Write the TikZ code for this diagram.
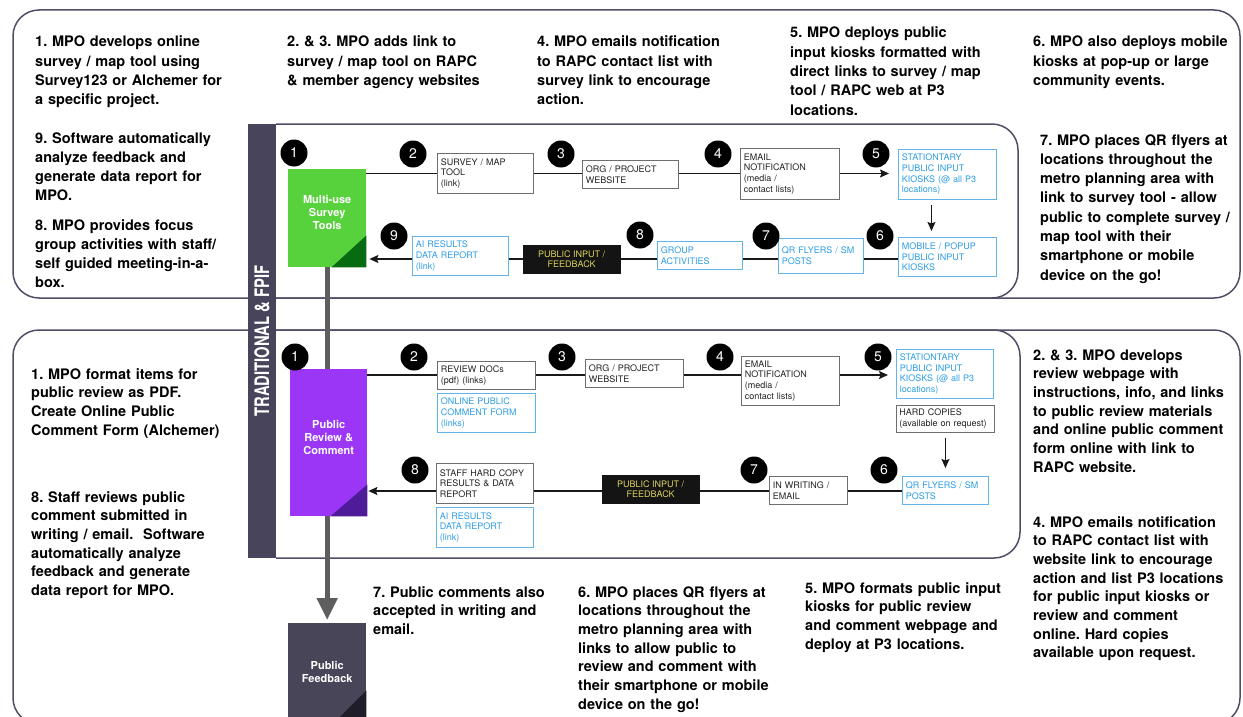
\documentclass[tikz,border=0pt]{standalone}
\usepackage{fontspec}
\setmainfont{TeX Gyre Heros}
\usepackage{graphicx}
\usetikzlibrary{arrows.meta}
\definecolor{frame}{HTML}{4F4E66}
\definecolor{barcol}{HTML}{47445C}
\definecolor{green1}{HTML}{58D23C}
\definecolor{green2}{HTML}{076B12}
\definecolor{purp1}{HTML}{9B36F7}
\definecolor{purp2}{HTML}{4F1C99}
\definecolor{fb1}{HTML}{484559}
\definecolor{fb2}{HTML}{1F1D29}
\definecolor{blueline}{HTML}{62B5EA}
\definecolor{bluetext}{HTML}{2D9DE6}
\definecolor{grayline}{HTML}{6E6E6E}
\definecolor{boxtext}{HTML}{222222}
\definecolor{pifbg}{HTML}{141414}
\definecolor{piftext}{HTML}{DDD35C}
\definecolor{thickgray}{HTML}{5E5E5E}
\pgfdeclarelayer{back}
\pgfdeclarelayer{mid}
\pgfsetlayers{back,mid,main}
\begin{document}
\frenchspacing
\begin{tikzpicture}[x=1pt,y=-1pt,
  frm/.style={draw=frame,line width=1.5pt,rounded corners=26pt},
  bx/.style n args={3}{draw, line width=0.9pt, anchor=north west, inner xsep=3.5pt, inner ysep=0pt,
     minimum width=#1, minimum height=#2, text width=#3, align=left,
     font=\frenchspacing\fontsize{9}{10.7}\selectfont},
  gb/.style={draw=grayline, text=boxtext},
  bb/.style={draw=blueline, text=bluetext},
  pif/.style={fill=pifbg, draw=pifbg, text=piftext, anchor=north west, inner sep=0pt,
     minimum width=97pt, minimum height=28pt, align=center, font=\fontsize{9}{10.7}\selectfont},
  num/.style={circle, fill=black, text=white, minimum size=27pt, inner sep=0pt,
     font=\fontsize{14}{14}\selectfont},
  conn/.style={draw=black!90, line width=1.3pt},
  arr/.style={conn, -{Stealth[length=9pt,width=8pt,inset=1.5pt]}},
  ann/.style={anchor=base west, inner sep=0pt, text width=240pt, align=left,
     font=\frenchspacing\bfseries\fontsize{14.5}{19.3}\selectfont},
  annl/.style={anchor=base west, inner sep=0pt, text width=240pt, align=left,
     font=\frenchspacing\bfseries\fontsize{14.5}{18.7}\selectfont},
  bigbox/.style={anchor=north west, inner sep=0pt},
  bigtxt/.style={text=white, align=center, inner sep=0pt, font=\bfseries\fontsize{11}{13}\selectfont},
]
\useasboundingbox (0,0) rectangle (1243,717);
\begin{pgfonlayer}{back}
\fill[white] (0,0) rectangle (1243,717);
\draw[frm] (13,10) rectangle (1240,298);
\draw[frm] (13,330) rectangle (1240,724);
\draw[frm] (276,124) -- (1018,124) -- (1018,298) -- (276,298);
\draw[frm] (276,330) -- (1020,330) -- (1020,558) -- (276,558);
\end{pgfonlayer}

% side bar
\node[fill=barcol, rotate=90, minimum width=434pt, minimum height=28pt, inner sep=0pt, text=white]
  (bar) at (262,341) {\scalebox{0.74}[1]{\bfseries\fontsize{20}{20}\selectfont TRADITIONAL \& FPIF}};

% big boxes
\node[bigbox, fill=green1, minimum width=78pt, minimum height=98pt] (green) at (288,169) {};
\fill[green2] ([yshift=32pt]green.south east) -- (green.south east) -- ([xshift=-35pt]green.south east) -- cycle;
\node[bigtxt] (greentxt) at ([yshift=6pt]green.center) {Multi-use\\Survey\\Tools};

\node[bigbox, fill=purp1, minimum width=77pt, minimum height=147pt] (purple) at (290,369) {};
\fill[purp2] ([yshift=32pt]purple.south east) -- (purple.south east) -- ([xshift=-37pt]purple.south east) -- cycle;
\node[bigtxt] (purpletxt) at ([yshift=5.5pt]purple.center) {Public\\Review \&\\Comment};

\node[bigbox, fill=fb1, minimum width=78pt, minimum height=110pt] (feedback) at (288,623) {};
\fill[fb2] ([yshift=43pt]feedback.south east) -- (feedback.south east) -- ([xshift=-43pt]feedback.south east) -- cycle;
\node[bigtxt] (feedbacktxt) at ([yshift=6pt]feedback.center) {Public\\Feedback};

\begin{pgfonlayer}{mid}
\draw[line width=5pt, draw=thickgray, -{Triangle[length=22pt,width=20pt]}, shorten >=3pt]
  (green.south) -- (feedback.north);
\end{pgfonlayer}

% ---------- top panel boxes
\node[bx={96pt}{40pt}{89pt}, gb] (survey) at (437,153) {SURVEY / MAP\\TOOL\\(link)};
\node[bx={96pt}{28pt}{89pt}, gb] (orgA) at (582,160) {ORG / PROJECT\\WEBSITE};
\node[bx={99pt}{51pt}{92pt}, gb] (emailA) at (740,148) {EMAIL\\NOTIFICATION\\(media /\\contact lists)};
\node[bx={98pt}{50pt}{91pt}, bb] (statA) at (898,149) {STATIONTARY\\PUBLIC INPUT\\KIOSKS (@ all P3\\locations)};
\node[bx={98pt}{39pt}{91pt}, bb] (mobA) at (898,237) {MOBILE / POPUP\\PUBLIC INPUT\\KIOSKS};
\node[bx={85pt}{35pt}{78pt}, bb] (qrA) at (778,238) {QR FLYERS / SM\\POSTS};
\node[bx={85pt}{28pt}{78pt}, bb] (grpA) at (657,241) {GROUP\\ACTIVITIES};
\node[pif] (pifA) at (523,245) {PUBLIC INPUT /\\FEEDBACK};
\node[bx={96pt}{39pt}{89pt}, bb] (aiA) at (412,236) {AI RESULTS\\DATA REPORT\\(link)};

\coordinate (t1) at (0,173.5);
\coordinate (t2) at (0,259);
\draw[conn] (green.east |- t1) -- (survey.west |- t1);
\draw[conn] (survey.east |- t1) -- (orgA.west |- t1);
\draw[conn] (orgA.east |- t1) -- (emailA.west |- t1);
\draw[arr, shorten >=9pt] (emailA.east |- t1) -- (statA.west |- t1);
\draw[arr, shorten <=5pt, shorten >=6pt] ([xshift=-16pt]statA.south) -- ([xshift=-16pt]mobA.north);
\draw[conn] (mobA.west |- t2) -- (qrA.east |- t2);
\draw[conn] (qrA.west |- t2) -- (grpA.east |- t2);
\draw[conn] (grpA.west |- t2) -- (pifA.east |- t2);
\draw[conn] (pifA.west |- t2) -- (aiA.east |- t2);
\draw[arr, shorten >=3pt] (aiA.west |- t2) -- (green.east |- t2);

\node[num] (a1) at (294,153) {1};
\node[num] (a2) at (413,154) {2};
\node[num] (a3) at (561,154) {3};
\node[num] (a4) at (718,154) {4};
\node[num] (a5) at (876,154) {5};
\node[num] (a6) at (880,236) {6};
\node[num] (a7) at (766,236) {7};
\node[num] (a8) at (640,235) {8};
\node[num] (a9) at (394,236) {9};

% ---------- lower panel boxes
\node[bx={98pt}{28pt}{91pt}, gb] (rdocs) at (437,361) {REVIEW DOCs\\(pdf) (links)};
\node[bx={98pt}{39pt}{91pt}, bb] (ocf) at (437,393) {ONLINE PUBLIC\\COMMENT FORM\\(links)};
\node[bx={98pt}{28pt}{91pt}, gb] (orgB) at (585,359) {ORG / PROJECT\\WEBSITE};
\node[bx={98pt}{49pt}{91pt}, gb] (emailB) at (741,356) {EMAIL\\NOTIFICATION\\(media /\\contact lists)};
\node[bx={97pt}{49pt}{90pt}, bb] (statB) at (896,349) {STATIONTARY\\PUBLIC INPUT\\KIOSKS (@ all P3\\locations)};
\node[bx={98pt}{27pt}{92pt}, gb, inner xsep=3pt] (hard) at (896,405) {HARD COPIES\\(available on request)};
\node[bx={86pt}{28pt}{79pt}, bb] (qrB) at (902,476) {QR FLYERS / SM\\POSTS};
\node[bx={78pt}{28pt}{71pt}, gb] (writ) at (769,476) {IN WRITING /\\EMAIL};
\node[pif] (pifB) at (602,475) {PUBLIC INPUT /\\FEEDBACK};
\node[bx={97pt}{40pt}{90pt}, gb] (staff) at (436,463) {STAFF HARD COPY\\RESULTS \& DATA\\REPORT};
\node[bx={97pt}{40pt}{90pt}, bb] (aiB) at (436,507) {AI RESULTS\\DATA REPORT\\(link)};

\coordinate (b1) at (0,375);
\coordinate (b2) at (0,491);
\draw[conn] (purple.east |- b1) -- (rdocs.west |- b1);
\draw[conn] (rdocs.east |- b1) -- (orgB.west |- b1);
\draw[conn] (orgB.east |- b1) -- (emailB.west |- b1);
\draw[arr, shorten >=8pt] (emailB.east |- b1) -- (statB.west |- b1);
\draw[arr, shorten <=5pt, shorten >=8pt] (hard.south) -- (qrB.north);
\draw[conn] (qrB.west |- b2) -- (writ.east |- b2);
\draw[conn] (writ.west |- b2) -- (pifB.east |- b2);
\draw[conn] (pifB.west |- b2) -- (staff.east |- b2);
\draw[arr, shorten >=1pt] (staff.west |- b2) -- (purple.east |- b2);

\node[num] (b1n) at (295,357) {1};
\node[num] (b2n) at (414,357) {2};
\node[num] (b3n) at (562,357) {3};
\node[num] (b4n) at (720,357) {4};
\node[num] (b5n) at (878,357) {5};
\node[num] (b6n) at (884,470) {6};
\node[num] (b7n) at (754,470) {7};
\node[num] (b8n) at (415,470) {8};

% ---------- annotations top
\node[ann] (T1) at (35,47) {1. MPO develops online\\survey / map tool using\\Survey123 or Alchemer for\\a specific project.};
\node[ann] (T23) at (287,47) {2. \& 3. MPO adds link to\\survey / map tool on RAPC\\\& member agency websites};
\node[ann] (T4) at (537,47) {4. MPO emails notification\\to RAPC contact list with\\survey link to encourage\\action.};
\node[ann] (T5) at (790,38) {5. MPO deploys public\\input kiosks formatted with\\direct links to survey / map\\tool / RAPC web at P3\\locations.};
\node[ann] (T6) at (1033,47) {6. MPO also deploys mobile\\kiosks at pop-up or large\\community events.};
\node[ann] (T9) at (35,143) {9. Software automatically\\analyze feedback and\\generate data report for\\MPO.};
\node[ann] (T8) at (35,230) {8. MPO provides focus\\group activities with staff/\\self guided meeting-in-a-\\box.};
\node[ann] (T7) at (1040,145) {7. MPO places QR flyers at\\locations throughout the\\metro planning area with\\link to survey tool - allow\\public to complete survey /\\map tool with their\\smartphone or mobile\\device on the go!};

% ---------- annotations lower
\node[annl] (L1) at (31,379) {1. MPO format items for\\public review as PDF.\\Create Online Public\\Comment Form (Alchemer)};
\node[annl] (L8) at (31,502) {8. Staff reviews public\\comment submitted in\\writing / email.\ \ Software\\automatically analyze\\feedback and generate\\data report for MPO.};
\node[annl] (L23) at (1033,360) {2. \& 3. MPO develops\\review webpage with\\instructions, info, and links\\to public review materials\\and online public comment\\form online with link to\\RAPC website.};
\node[annl] (L4) at (1033,527) {4. MPO emails notification\\to RAPC contact list with\\website link to encourage\\action and list P3 locations\\for public input kiosks or\\review and comment\\online. Hard copies\\available upon request.};
\node[annl] (L7) at (373,597) {7. Public comments also\\accepted in writing and\\email.};
\node[annl] (L6) at (578,597) {6. MPO places QR flyers at\\locations throughout the\\metro planning area with\\links to allow public to\\review and comment with\\their smartphone or mobile\\device on the go!};
\node[annl] (L5) at (805,593) {5. MPO formats public input\\kiosks for public review\\and comment webpage and\\deploy at P3 locations.};
\end{tikzpicture}
\end{document}
